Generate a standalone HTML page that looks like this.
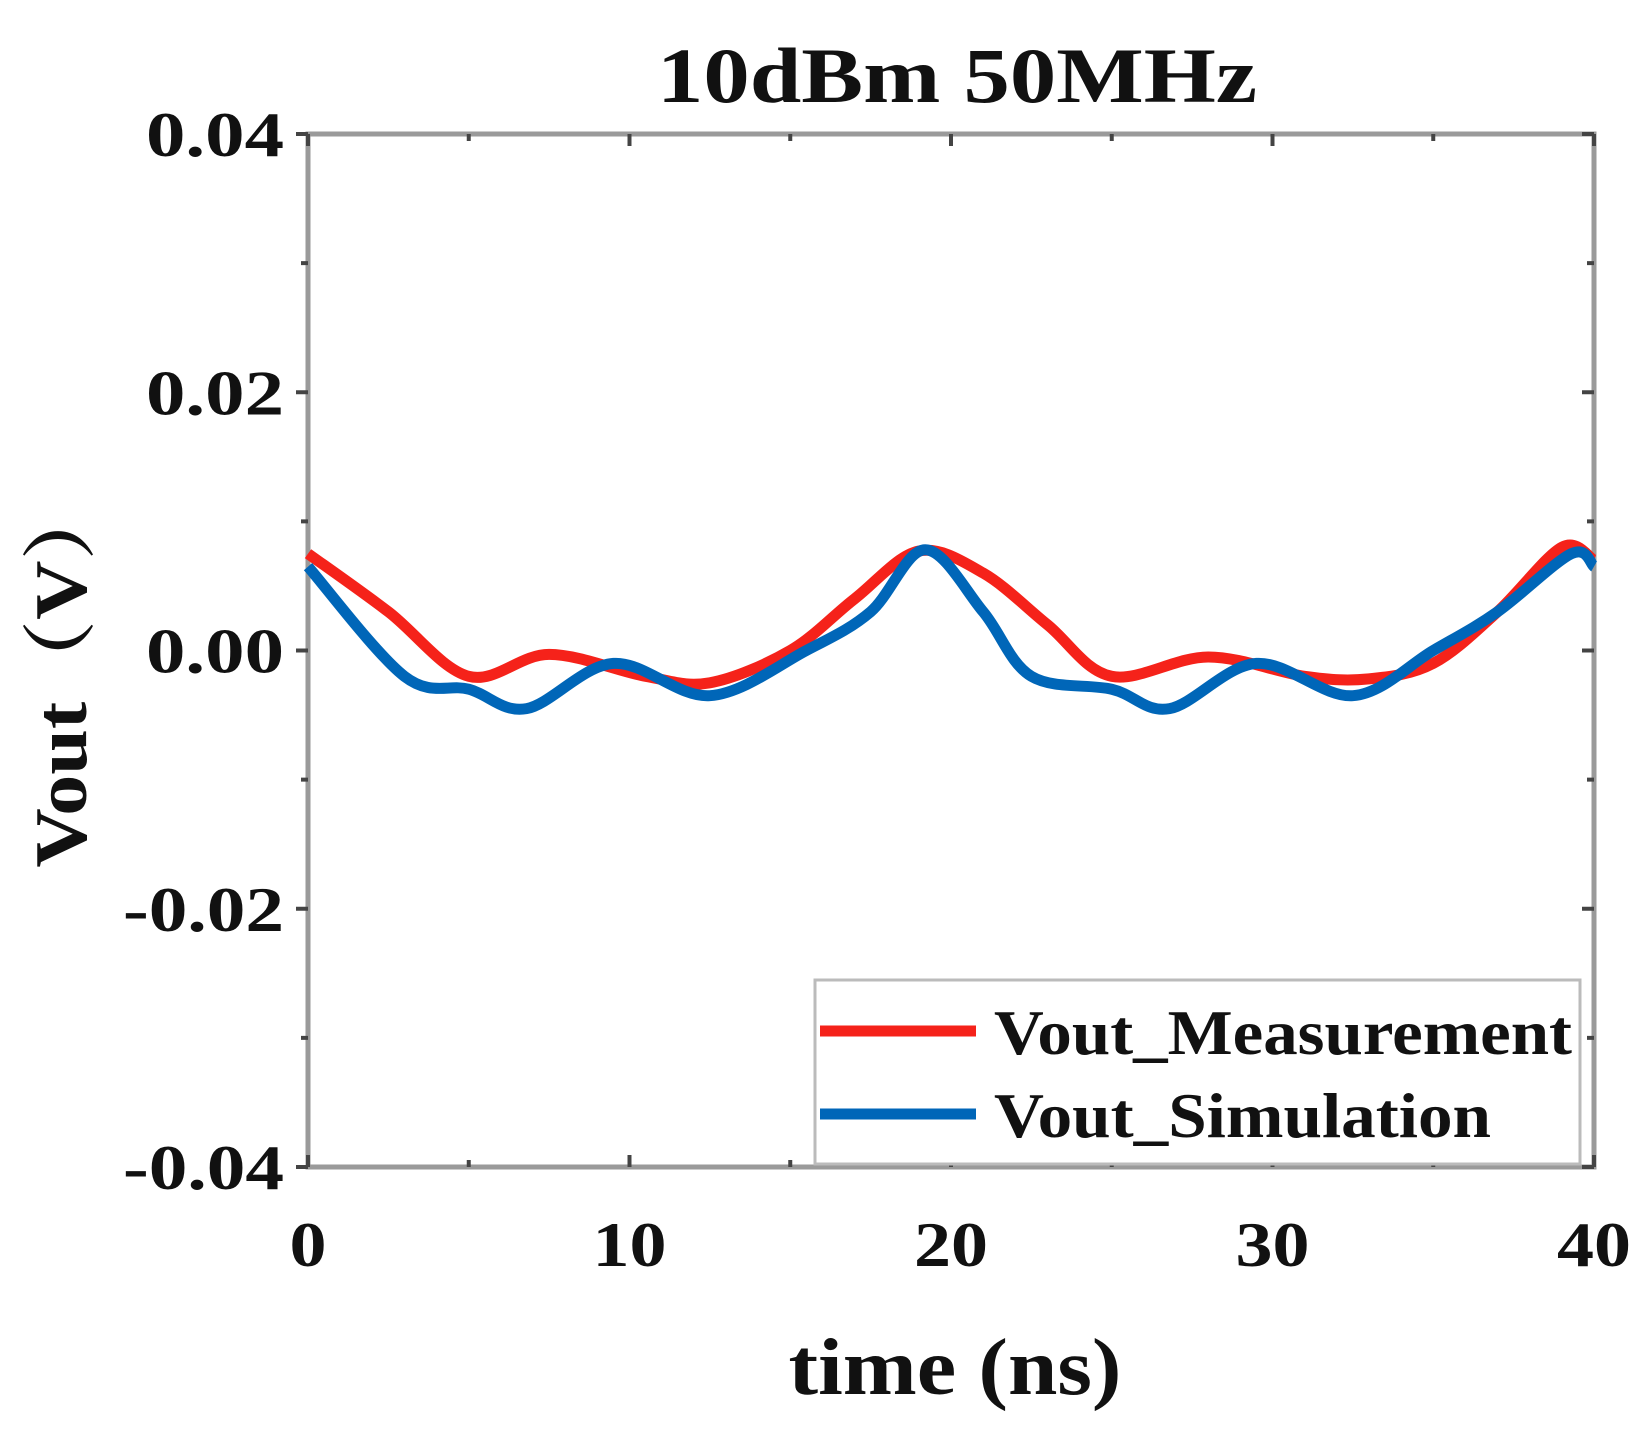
<!DOCTYPE html>
<html><head><meta charset="utf-8"><style>
html,body{margin:0;padding:0;background:#fff}
svg text{font-family:"Liberation Serif","Noto Serif CJK SC",serif;font-weight:bold;fill:#111}
</style></head><body>
<svg id="chart" width="1648" height="1424" viewBox="0 0 1648 1424">
<g id="grid"></g><g id="series"></g><g id="labels"></g>
</svg>
<script>
const times=[0,2.5,5,7.5,10.5,12.5,15,17,19,21,23,25,28,31,33,35,37,39,40];
const measurement=[0.0075,0.003,-0.002,-0.0003,-0.002,-0.0025,0,0.004,0.0077,0.006,0.002,-0.002,-0.0005,-0.002,-0.0022,-0.001,0.003,0.008,0.007];
const simTimes=[0,3,5,6.8,9.5,12.5,15.5,17.5,19.2,21,22.5,25,26.8,29.5,32.5,35,37,39.3,40];
const simulation=[0.0065,-0.002,-0.003,-0.0045,-0.001,-0.0035,0,0.003,0.0078,0.003,-0.002,-0.003,-0.0045,-0.001,-0.0035,0,0.003,0.0075,0.0065];
const xTicks=[0,10,20,30,40];
const yTicks=[-0.04,-0.02,0,0.02,0.04];
const yTickLabels=["-0.04","-0.02","0.00","0.02","0.04"];
const L=308,R=1594,T=134,B=1167;
const X=v=>L+(v-0)/40*(R-L);
const Y=v=>B-(v+0.04)/0.08*(B-T);
const NS="http://www.w3.org/2000/svg";
function mk(tag,attrs,parent){const e=document.createElementNS(NS,tag);for(const k in attrs)e.setAttribute(k,attrs[k]);parent.appendChild(e);return e;}
const grid=document.getElementById('grid'),ser=document.getElementById('series'),lab=document.getElementById('labels');
const frame=mk('rect',{x:L,y:T,width:R-L,height:B-T,fill:'none',stroke:'#9a9a9a','stroke-width':5},grid);


for(let i=0;i<=8;i++){const v=i*5;
 const t=mk('line',{x1:X(v),x2:X(v),y1:B,y2:B-(i%2?7:12),stroke:'#444','stroke-width':4},grid);
 
 mk('line',{x1:X(v),x2:X(v),y1:T,y2:T+(i%2?7:12),stroke:'#444','stroke-width':4},grid);}
for(let i=0;i<=8;i++){const v=-0.04+i*0.01;
 const t=mk('line',{x1:L,x2:L-(i%2?7:12),y1:Y(v),y2:Y(v),stroke:'#444','stroke-width':4},grid);
 
 mk('line',{x1:R,x2:R-(i%2?7:12),y1:Y(v),y2:Y(v),stroke:'#444','stroke-width':4},grid);}
xTicks.forEach(v=>{const t=mk('text',{x:X(v),y:1266,'text-anchor':'middle','font-size':64,textLength:String(v).length*37,lengthAdjust:'spacingAndGlyphs'},lab);t.textContent=v;
 });
yTicks.forEach((v,i)=>{const s=yTickLabels[i];const t=mk('text',{x:284,y:Y(v)+22,'text-anchor':'end','font-size':64,textLength:s.startsWith('-')?161:138,lengthAdjust:'spacingAndGlyphs'},lab);t.textContent=s;
 });
function smooth(xs,ys){const p=xs.map((x,i)=>[X(x),Y(ys[i])]);let d='M'+p[0][0]+','+p[0][1];
 for(let i=0;i<p.length-1;i++){const p0=p[Math.max(0,i-1)],p1=p[i],p2=p[i+1],p3=p[Math.min(p.length-1,i+2)];
 d+=' C'+(p1[0]+(p2[0]-p0[0])/6)+','+(p1[1]+(p2[1]-p0[1])/6)+' '+(p2[0]-(p3[0]-p1[0])/6)+','+(p2[1]-(p3[1]-p1[1])/6)+' '+p2[0]+','+p2[1];}
 return d;}
const m=mk('path',{d:smooth(times,measurement),fill:'none',stroke:'#f5221a','stroke-width':11},ser);

const s=mk('path',{d:smooth(simTimes,simulation),fill:'none',stroke:'#0066b8','stroke-width':11},ser);

</script>
<svg width="1648" height="1424" style="position:absolute;left:0;top:0">
<text x="957" y="102" text-anchor="middle" font-size="78" textLength="600" lengthAdjust="spacingAndGlyphs">10dBm 50MHz</text>
<text x="955" y="1394" text-anchor="middle" font-size="80" textLength="333" lengthAdjust="spacingAndGlyphs">time (ns)</text>
<text transform="translate(86,673) rotate(-90)" text-anchor="middle" font-size="74" textLength="389" lengthAdjust="spacingAndGlyphs">Vout（V）</text>
<g>
<rect x="815" y="980" width="765" height="184" fill="#fff" stroke="#bbb" stroke-width="3"/>
<line x1="820" x2="976" y1="1031" y2="1031" stroke="#f5221a" stroke-width="11"/>
<text x="994" y="1054" font-size="64" textLength="578" lengthAdjust="spacingAndGlyphs">Vout_Measurement</text>
<line x1="820" x2="976" y1="1114" y2="1114" stroke="#0066b8" stroke-width="11"/>
<text x="994" y="1137" font-size="64" textLength="497" lengthAdjust="spacingAndGlyphs">Vout_Simulation</text>
</g>
</svg>
</body></html>
